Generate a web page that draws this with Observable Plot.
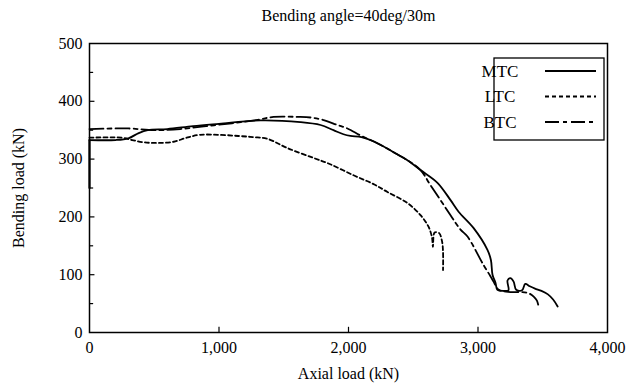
<!DOCTYPE html>
<html>
<head>
<meta charset="utf-8">
<script src="https://cdn.jsdelivr.net/npm/d3@7"></script>
<script src="https://cdn.jsdelivr.net/npm/@observablehq/plot@0.6"></script>
<style>
  html, body { margin: 0; padding: 0; background: #fff; }
  #chart { width: 631px; height: 386px; }
</style>
</head>
<body>
<div id="chart"></div>
<script>
// ---- data ----
const titleText = "Bending angle=40deg/30m";
const xLabel = "Axial load (kN)";
const yLabel = "Bending load (kN)";
const xTicks = [0, 1000, 2000, 3000, 4000];
const yTicks = [0, 100, 200, 300, 400, 500];
const yMinorTicks = [50, 150, 250, 350, 450];
const seriesNames = ["MTC", "LTC", "BTC"];

// initial vertical loading segment of MTC on the left edge
const mtcStartX = [0, 0];
const mtcStartY = [250, 333];

const mtcX = [0, 200, 300, 380, 450, 600, 800, 1000, 1320, 1629, 1784, 1884, 1961, 2015, 2100, 2200, 2348, 2455, 2556, 2687, 2788, 2850, 2965, 3073, 3100, 3112, 3135, 3150, 3200, 3235, 3228, 3250, 3275, 3295, 3340, 3365, 3400, 3440, 3490, 3540, 3580, 3615];
const mtcY = [333, 333, 336, 345, 350, 352, 357, 361, 367, 364, 359, 350, 343, 340, 338, 330, 312, 298, 281, 259, 229, 209, 181, 143, 125, 100, 86, 74, 72, 73, 90, 94, 88, 74, 73, 84, 80, 76, 72, 66, 57, 45];

const ltcX = [0, 250, 330, 420, 530, 650, 750, 850, 1000, 1150, 1266, 1375, 1529, 1730, 1850, 2039, 2200, 2301, 2455, 2556, 2618, 2645, 2652, 2665, 2700, 2722, 2730, 2730];
const ltcY = [337, 337, 333, 329, 328, 330, 337, 342, 342, 340, 338, 335, 319, 302, 292, 272, 256, 243, 224, 203, 183, 164, 148, 173, 172, 158, 140, 108];

const btcX = [0, 300, 500, 700, 900, 1100, 1300, 1421, 1606, 1707, 1800, 1915, 1992, 2100, 2200, 2348, 2455, 2556, 2633, 2788, 2865, 2919, 3042, 3097, 3120, 3160, 3250, 3330, 3390, 3430, 3455, 3470];
const btcY = [352, 353, 350, 352, 357, 362, 368, 373, 373, 372, 368, 359, 353, 340, 330, 312, 298, 281, 255, 203, 178, 166, 117, 97, 88, 74, 70, 70, 68, 62, 55, 43];

// ---- build table ----
const rows = [];
mtcX.forEach((x, i) => rows.push({series: "MTC", x, y: mtcY[i]}));
ltcX.forEach((x, i) => rows.push({series: "LTC", x, y: ltcY[i]}));
btcX.forEach((x, i) => rows.push({series: "BTC", x, y: btcY[i]}));
const startRows = mtcStartX.map((x, i) => ({x, y: mtcStartY[i]}));

const styles = {
  MTC: {dash: null},
  LTC: {dash: "4,3"},
  BTC: {dash: "14,4,4,4"}
};

const font = "'Liberation Serif', 'Times New Roman', serif";

const chart = Plot.plot({
  width: 631,
  height: 386,
  marginLeft: 89,
  marginRight: 24,
  marginTop: 43,
  marginBottom: 54,
  style: {fontFamily: font, fontSize: "16px", color: "#000", background: "#fff"},
  x: {domain: [0, 4000]},
  y: {domain: [0, 500]},
  marks: [
    Plot.axisX({ticks: xTicks, tickSize: 0, tickPadding: 9, tickFormat: d3.format(","), label: null, fontSize: 16}),
    Plot.axisY({ticks: yTicks, tickSize: 0, tickPadding: 7, label: null, fontSize: 16}),
    Plot.ruleX(xTicks.slice(1, -1), {x: d => d, y1: 0, y2: 9, stroke: "#000", strokeWidth: 1.2}),
    Plot.ruleY(yTicks.slice(1, -1), {y: d => d, x1: 0, x2: 42, stroke: "#000", strokeWidth: 1.2}),
    Plot.ruleY(yMinorTicks, {y: d => d, x1: 0, x2: 32, stroke: "#000", strokeWidth: 1.2}),
    Plot.line(startRows, {x: "x", y: "y", stroke: "#000", strokeWidth: 2.2}),
    ...seriesNames.map(s => Plot.line(rows.filter(r => r.series === s), {
      x: "x", y: "y", stroke: "#000", strokeWidth: 1.8,
      strokeDasharray: styles[s].dash, curve: "catmull-rom"
    })),
    Plot.frame({stroke: "#000", strokeWidth: 1.5}),
    Plot.text([titleText], {frameAnchor: "top", dy: -34, fontSize: 16, fill: "#000"}),
    Plot.text([xLabel], {frameAnchor: "bottom", dy: 46, fontSize: 16, fill: "#000"}),
    Plot.text([yLabel], {frameAnchor: "left", dx: -71, rotate: -90, textAnchor: "middle", fontSize: 16, fill: "#000"})
  ]
});

// ---- legend (boxed, inside the plot area) ----
const svg = d3.select(chart);
const lg = svg.append("g").attr("font-family", font).attr("font-size", 17);
const bx = 494, by = 58, bw = 110, bh = 82;
lg.append("rect").attr("x", bx).attr("y", by).attr("width", bw).attr("height", bh)
  .attr("fill", "#fff").attr("stroke", "#000").attr("stroke-width", 1.3);
seriesNames.forEach((s, i) => {
  const cy = by + 13 + i * 25.5;
  lg.append("text").attr("x", bx + 6).attr("y", cy).attr("dy", "0.35em").attr("fill", "#000").text(s);
  lg.append("line").attr("x1", bx + 51).attr("x2", bx + 102).attr("y1", cy).attr("y2", cy)
    .attr("stroke", "#000").attr("stroke-width", 1.8)
    .attr("stroke-dasharray", styles[s].dash);
});

document.getElementById("chart").appendChild(chart);
</script>
</body>
</html>
